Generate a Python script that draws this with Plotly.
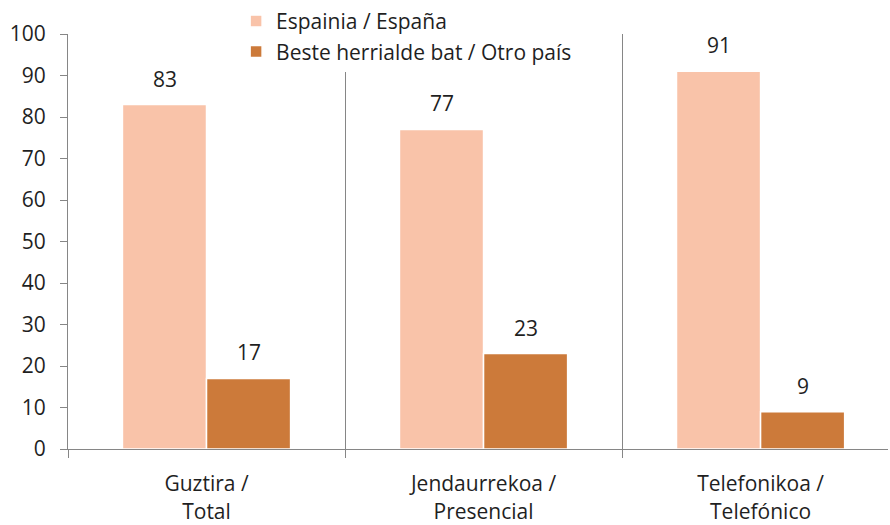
import plotly.graph_objects as go

categories = ["Guztira /<br>Total", "Jendaurrekoa /<br>Presencial", "Telefonikoa /<br>Telefónico"]
espainia = [83, 77, 91]
beste = [17, 23, 9]
series_names = ["Espainia / España", "Beste herrialde bat / Otro país"]
colors = ["#F9C3A9", "#CC7A3A"]

FONT = "Open Sans"
TXT = "#1F1F1F"
FS = 21

fig = go.Figure()
for name, vals, col in zip(series_names, [espainia, beste], colors):
    fig.add_trace(go.Bar(
        x=categories, y=vals, name=name,
        marker=dict(color=col, line=dict(color="white", width=1.5)),
    ))

# etiquetas de valor encima de cada barra
for vals, shift in [(espainia, -42), (beste, 42)]:
    for c, v in zip(categories, vals):
        fig.add_annotation(x=c, y=v, text=str(v), showarrow=False,
                           xshift=shift, yanchor="bottom", yshift=10,
                           font=dict(family=FONT, size=FS, color=TXT))

fig.update_layout(
    width=890, height=525,
    margin=dict(l=68, r=2, t=33, b=76),
    paper_bgcolor="white", plot_bgcolor="white",
    barmode="group", bargap=0.393, bargroupgap=0,
    font=dict(family=FONT, size=FS, color=TXT),
    showlegend=True,
    legend=dict(x=0.205, y=1.077, xanchor="left", yanchor="top",
                bgcolor="white", font=dict(size=FS, color=TXT),
                itemwidth=30, tracegroupgap=0),
)
fig.update_xaxes(
    type="category", range=[-0.5, 2.46], automargin=False,
    tickson="boundaries", ticks="outside", ticklen=8, tickcolor="#868686",
    showgrid=True, gridcolor="#868686", gridwidth=1,
    showline=True, linecolor="#868686", linewidth=1,
    ticklabelstandoff=16,
    tickfont=dict(family=FONT, size=FS, color=TXT),
)
fig.update_yaxes(
    range=[0, 100], dtick=10, automargin=False,
    ticks="outside", ticklen=7, tickcolor="#868686",
    showgrid=False, zeroline=False,
    showline=True, linecolor="#868686", linewidth=1,
    ticklabelstandoff=10,
    tickfont=dict(family=FONT, size=FS, color=TXT),
)

fig.write_html("out.html", config={"displayModeBar": False},
               post_script="document.body.style.margin='0';")
